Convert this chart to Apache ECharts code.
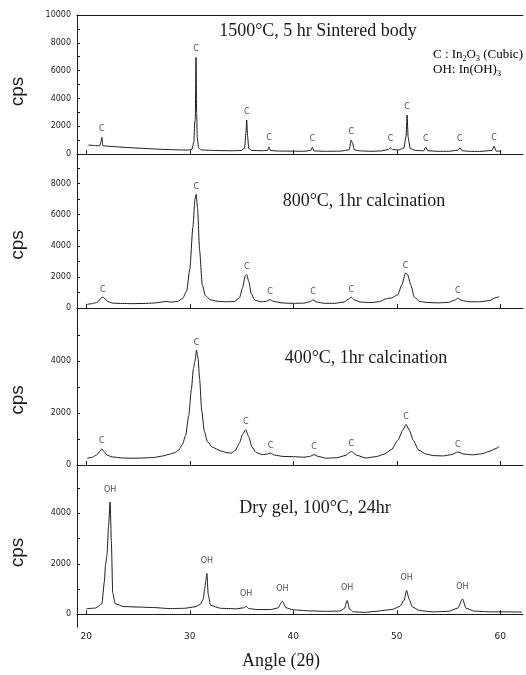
<!DOCTYPE html>
<html lang="en">

<head>
    <meta charset="UTF-8" />
    <title>XRD patterns</title>
    <script src="https://cdn.jsdelivr.net/npm/echarts/dist/echarts.min.js"></script>
    <style>
        html, body { margin: 0; padding: 0; background: #fff; }
        #main { width: 526px; height: 675px; }
    </style>
</head>

<body>
    <div id="main"></div>
</body>
<script>
    // 2theta / cps points (top to bottom)
    var sintered = [
        [20.2, 650], [20.8, 620], [21.3, 590], [21.42, 900], [21.5, 1200], [21.6, 600], [22.2, 560], [23, 520],
        [24, 470], [25, 430], [26, 390], [27, 350], [28, 320], [29, 300], [29.8, 290], [30.2, 340], [30.4, 900],
        [30.48, 2300], [30.53, 2500], [30.6, 6950], [30.66, 3000], [30.72, 1200], [30.85, 450], [31.1, 300],
        [32, 270], [33, 250], [34, 240], [35, 260], [35.3, 450], [35.42, 1500], [35.5, 2450], [35.58, 1300],
        [35.7, 400], [36, 260], [37, 240], [37.5, 270], [37.65, 520], [37.8, 260], [38.5, 220], [40, 210],
        [41, 200], [41.7, 260], [41.85, 500], [42, 230], [43, 200], [44.5, 210], [45.4, 300], [45.6, 1000],
        [45.72, 800], [45.9, 300], [46.5, 230], [47.5, 200], [48.5, 230], [49.2, 330], [49.4, 450], [49.6, 320],
        [50.2, 300], [50.7, 450], [50.9, 1300], [51.0, 2800], [51.1, 1200], [51.3, 400], [51.8, 260], [52.6, 240],
        [52.8, 500], [53.0, 240], [54, 200], [55, 200], [55.9, 280], [56.1, 450], [56.3, 240], [57, 200],
        [58, 190], [59.2, 260], [59.4, 560], [59.6, 220], [60, 200]
    ];
    var calc800 = [
        [20.1, 240], [20.6, 280], [21.1, 380], [21.4, 620], [21.6, 700], [21.8, 600], [22.1, 400], [22.6, 310],
        [23.5, 290], [24.5, 280], [25.5, 290], [26.5, 320], [27.3, 380], [27.7, 420], [28.2, 380], [28.8, 420],
        [29.3, 600], [29.7, 1100], [30.0, 2500], [30.3, 5200], [30.5, 7000], [30.62, 7300], [30.75, 6400],
        [30.95, 3700], [31.2, 1500], [31.5, 800], [32, 520], [32.8, 420], [33.6, 400], [34.3, 420], [34.8, 650],
        [35.1, 1300], [35.35, 2050], [35.5, 2150], [35.7, 1700], [35.95, 900], [36.3, 500], [36.9, 400],
        [37.4, 430], [37.75, 540], [38.1, 420], [39, 320], [40, 300], [41, 310], [41.6, 400], [41.9, 520],
        [42.3, 380], [43, 300], [44, 300], [44.9, 380], [45.3, 550], [45.6, 700], [45.9, 520], [46.5, 380],
        [47.5, 350], [48.3, 400], [49, 600], [49.5, 650], [50.1, 850], [50.5, 1500], [50.85, 2250], [51.05, 2150],
        [51.35, 1500], [51.7, 700], [52.2, 420], [53, 350], [54, 330], [55, 360], [55.6, 500], [55.9, 630],
        [56.3, 480], [57, 400], [58, 400], [59, 480], [59.5, 650], [59.9, 730]
    ];
    var calc400 = [
        [20.1, 260], [20.6, 300], [21.0, 390], [21.3, 520], [21.5, 620], [21.7, 520], [22.0, 380], [22.5, 310],
        [23.5, 270], [24.5, 260], [25.5, 270], [26.5, 290], [27.3, 340], [27.9, 400], [28.5, 470], [28.9, 560],
        [29.3, 800], [29.6, 1150], [29.9, 1900], [30.15, 2900], [30.35, 3700], [30.5, 4000], [30.65, 4420],
        [30.8, 4100], [30.95, 3300], [31.15, 2100], [31.4, 1300], [31.7, 900], [32.2, 680], [33, 540], [33.6, 470],
        [34.0, 460], [34.4, 560], [34.8, 850], [35.1, 1180], [35.4, 1360], [35.7, 1080], [36.0, 700], [36.4, 480],
        [37, 400], [37.5, 420], [37.8, 460], [38.2, 380], [39, 330], [40, 320], [41, 300], [41.6, 330], [42.0, 400],
        [42.4, 330], [43.2, 260], [44.2, 280], [45.0, 360], [45.6, 520], [46.1, 380], [47, 270], [48, 320],
        [48.8, 420], [49.5, 600], [50.1, 950], [50.6, 1350], [50.9, 1560], [51.2, 1350], [51.6, 950], [52.1, 580],
        [52.8, 420], [53.6, 360], [54.5, 350], [55.3, 400], [55.9, 500], [56.5, 420], [57.3, 390], [58.2, 430],
        [58.9, 520], [59.5, 620], [59.9, 710]
    ];
    var dryGel = [
        [20.0, 220], [20.9, 250], [21.5, 420], [21.75, 1300], [21.85, 1950], [22.0, 2350], [22.15, 3500],
        [22.3, 4450], [22.42, 2900], [22.55, 850], [22.8, 420], [23.6, 310], [25, 290], [26.5, 270], [28, 230],
        [29.5, 240], [30.5, 300], [31.0, 390], [31.3, 600], [31.45, 1050], [31.55, 1350], [31.65, 1620],
        [31.78, 800], [32.0, 360], [33, 240], [34.5, 220], [35.2, 260], [35.45, 320], [35.7, 230], [36.5, 190],
        [37.8, 190], [38.5, 250], [38.95, 520], [39.3, 260], [40, 180], [41.5, 140], [43, 120], [44.5, 130],
        [44.95, 240], [45.2, 550], [45.45, 200], [45.8, 100], [47, 80], [48, 120], [48.8, 160], [49.6, 200],
        [50.3, 320], [50.7, 550], [50.95, 940], [51.2, 600], [51.5, 300], [52.2, 150], [53.5, 100], [55, 120],
        [55.9, 250], [56.35, 610], [56.7, 240], [57.5, 130], [59, 100], [60.5, 100], [62.1, 90]
    ];

    // peak positions that carry a phase letter
    var sinteredPeaks = [21.5, 30.6, 35.5, 37.65, 41.85, 45.6, 49.4, 51.0, 52.8, 56.1, 59.4];
    var calc800Peaks = [21.6, 30.62, 35.5, 37.75, 41.9, 45.6, 50.85, 55.9];
    var calc400Peaks = [21.5, 30.65, 35.4, 37.8, 42.0, 45.6, 50.9, 55.9];
    var dryGelPeaks = [22.3, 31.65, 35.45, 38.95, 45.2, 50.95, 56.35];

    var angleTicks = [20, 30, 40, 50, 60];
    var cpsLabels1 = [0, 2000, 4000, 6000, 8000, 10000];
    var cpsLabels2 = [0, 2000, 4000, 6000, 8000];
    var cpsLabels3 = [0, 2000, 4000];
    var cpsTicks1 = [0, 1000, 2000, 3000, 4000, 5000, 6000, 7000, 8000, 9000, 10000];
    var cpsTicks2 = [0, 1000, 2000, 3000, 4000, 5000, 6000, 7000, 8000, 9000];
    var cpsTicks3 = [0, 1000, 2000, 3000, 4000, 5000];

    var ink = '#1b1b1b';
    var serif = '"Liberation Serif", "DejaVu Serif", serif';

    function peakTops(curve, peaks) {
        return peaks.map(function (a) {
            var top = 0;
            curve.forEach(function (p) {
                if (Math.abs(p[0] - a) <= 0.3 && p[1] > top) top = p[1];
            });
            return [a, top];
        });
    }

    var grids = [
        { left: 77, right: 3, top: 15, height: 153 },
        { left: 77, right: 3, top: 168, height: 154 },
        { left: 77, right: 3, top: 322, height: 156 },
        { left: 77, right: 3, top: 478, height: 149 }
    ];
    var yRanges = [[-1000, 10000], [-900, 9000], [-500, 5500], [-500, 5400]];
    var yLabels = [cpsLabels1, cpsLabels2, cpsLabels3, cpsLabels3];
    var yTicks = [cpsTicks1, cpsTicks2, cpsTicks3, cpsTicks3];

    var xAxes = [], yAxes = [];
    for (var i = 0; i < 4; i++) {
        xAxes.push({
            type: 'value', gridIndex: i, min: 19.1, max: 62.2,
            axisLine: { show: true, lineStyle: { color: ink, width: 1 } },
            axisTick: { show: true, inside: true, length: 4, customValues: angleTicks, lineStyle: { color: ink } },
            axisLabel: {
                show: i == 3, customValues: angleTicks, margin: 5, fontSize: 9,
                fontFamily: '"DejaVu Sans", sans-serif', color: '#222'
            },
            splitLine: { show: false }
        });
        yAxes.push({
            type: 'value', gridIndex: i, min: yRanges[i][0], max: yRanges[i][1],
            name: 'cps', nameLocation: 'middle', nameGap: 50,
            nameTextStyle: { fontSize: 19, fontFamily: '"Liberation Sans", Arial, sans-serif', color: ink },
            axisLine: { show: true, lineStyle: { color: ink, width: 1 } },
            axisTick: { show: true, inside: true, length: 3, customValues: yTicks[i], lineStyle: { color: ink } },
            axisLabel: {
                customValues: yLabels[i], margin: 6, fontSize: 8,
                fontFamily: '"DejaVu Sans", sans-serif', color: '#222',
                formatter: function (v) { return String(v); }
            },
            splitLine: { show: false }
        });
    }
    // frame line on top of the first pattern
    xAxes.push({
        type: 'value', gridIndex: 0, position: 'top', min: 19.1, max: 62.2,
        axisLine: { show: true, lineStyle: { color: ink, width: 1 } },
        axisTick: { show: false }, axisLabel: { show: false }, splitLine: { show: false }
    });

    var curves = [sintered, calc800, calc400, dryGel];
    var peakLists = [sinteredPeaks, calc800Peaks, calc400Peaks, dryGelPeaks];
    var letters = ['C', 'C', 'C', 'OH'];
    var gaps = [4, 3, 3, 8];

    var series = [];
    curves.forEach(function (c, k) {
        series.push({
            type: 'line', xAxisIndex: k, yAxisIndex: k, data: c,
            showSymbol: false, smooth: 0.2, smoothMonotone: 'x',
            lineStyle: { color: ink, width: 1 }
        });
        series.push({
            type: 'scatter', xAxisIndex: k, yAxisIndex: k, data: peakTops(c, peakLists[k]),
            symbolSize: 1, itemStyle: { color: 'rgba(0,0,0,0)' },
            label: {
                show: true, position: 'top', distance: gaps[k], formatter: letters[k],
                fontSize: 8, fontFamily: '"DejaVu Sans", sans-serif', color: ink
            }
        });
    });

    function caption(text, x, y) {
        return {
            type: 'text', x: x, y: y,
            style: { text: text, font: '18px ' + serif, fill: ink, textAlign: 'center', textVerticalAlign: 'middle' }
        };
    }
    var subRich = {
        n: { fontSize: 13, fontFamily: serif, color: ink, lineHeight: 15, verticalAlign: 'middle' },
        s: { fontSize: 8, fontFamily: serif, color: ink, lineHeight: 15, verticalAlign: 'bottom' }
    };

    var option = {
        animation: false,
        backgroundColor: '#fff',
        grid: grids,
        xAxis: xAxes,
        yAxis: yAxes,
        series: series,
        graphic: [
            caption('1500°C, 5 hr Sintered body', 318, 31),
            caption('800°C, 1hr calcination', 364, 201),
            caption('400°C, 1hr calcination', 366, 358),
            caption('Dry gel, 100°C, 24hr', 315, 508),
            caption('Angle (2θ)', 281, 661),
            {
                type: 'text', x: 433, y: 55,
                style: { text: '{n|C : In}{s|2}{n|O}{s|3}{n| (Cubic)}', rich: subRich, textVerticalAlign: 'middle' }
            },
            {
                type: 'text', x: 433, y: 70,
                style: { text: '{n|OH: In(OH)}{s|3}', rich: subRich, textVerticalAlign: 'middle' }
            }
        ]
    };

    var myChart = echarts.init(document.getElementById('main'));
    myChart.setOption(option);
</script>

</html>
